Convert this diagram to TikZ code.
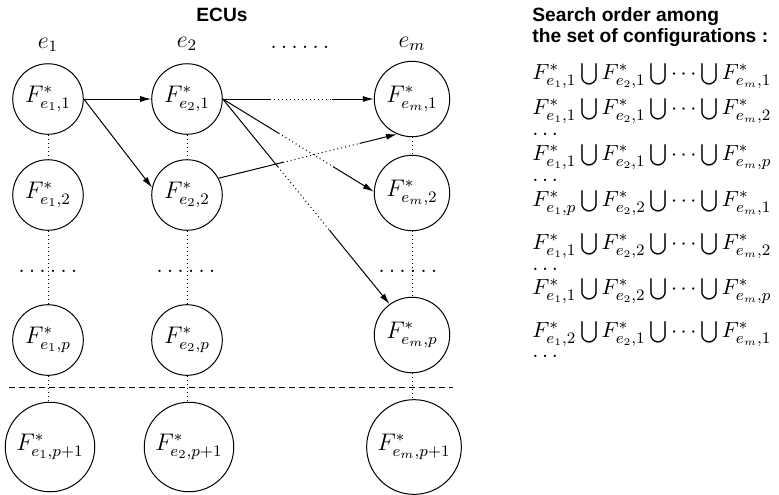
\documentclass[tikz,border=0pt]{standalone}
\usepackage{amsmath,amssymb}
\usepackage{fontspec}
\newfontfamily\headfont{Liberation Sans}
\usetikzlibrary{arrows.meta, positioning, calc}

\begin{document}
\begin{tikzpicture}[x=0.5pt, y=-0.5pt,
    ecu/.style={
        circle, draw, line width=0.5pt,
        font=\large
    },
    tag/.style={font=\large, inner sep=1pt},
    head/.style={font=\headfont\bfseries\fontsize{9.6}{10.5}\selectfont, align=left},
    arrow/.style={-{Latex[length=5.5pt, width=3pt]}, line width=0.5pt},
    solid line/.style={line width=0.5pt},
    dotline/.style={line width=0.5pt, dash pattern=on 0.5pt off 1.5pt},
    cutline/.style={line width=0.5pt, dash pattern=on 3pt off 2pt},
    row/.style={font=\fontsize{10.8}{13}\selectfont, anchor=west, inner sep=0pt},
]
\useasboundingbox (0,0) rectangle (779,494);

% Titoli
\node[head] (ecus) at (222,15) {ECUs};
\node[head, anchor=west, inner sep=0pt] (search) at (532,27)
    {Search order among\\the set of configurations :};

% Intestazioni colonne
\node[tag] (h1) at (48,45)  {$e_1$};
\node[tag] (h2) at (187,44) {$e_2$};
\node[tag] (hd) at (300,47) {$\ldots\ldots$};
\node[tag] (hm) at (412,44) {$e_m$};

% Configurazioni
\node[ecu] (e11) at (48,99)  {$F^*_{e_1,1}$};
\node[ecu] (e21) at (187,99) {$F^*_{e_2,1}$};
\node[ecu] (em1) at (412,99) {$F^*_{e_m,1}$};

\node[ecu] (e12) at (48,195)  {$F^*_{e_1,2}$};
\node[ecu] (e22) at (187,195) {$F^*_{e_2,2}$};
\node[ecu] (em2) at (412,193) {$F^*_{e_m,2}$};

\node[tag] (d1) at (48,271)  {$\ldots\ldots$};
\node[tag] (d2) at (186,271) {$\ldots\ldots$};
\node[tag] (dm) at (408,271) {$\ldots\ldots$};

\node[ecu] (e1p) at (48,340)  {$F^*_{e_1,p}$};
\node[ecu] (e2p) at (187,340) {$F^*_{e_2,p}$};
\node[ecu] (emp) at (412,335) {$F^*_{e_m,p}$};

\node[ecu] (e1q) at (50,447)  {$F^*_{e_1,p+1}$};
\node[ecu] (e2q) at (189,447) {$F^*_{e_2,p+1}$};
\node[ecu] (emq) at (414,447) {$F^*_{e_m,p+1}$};

% Colonne tratteggiate
\foreach \c in {1,2,m} {
    \draw[dotline] (e\c1) -- (e\c2);
    \draw[dotline] (e\c2) -- (e\c p);
    \draw[dotline] (e\c p) -- (e\c p |- e\c q.north);
}

% Separatore
\coordinate (cutL) at (9,387);
\coordinate (cutR) at (453,387);
\draw[cutline] (cutL) -- (cutR);

% Frecce
\draw[arrow] (e11) -- (e21);
\draw[arrow] (e11.east) -- (e22.168);

\foreach \src/\dst/\a/\b [count=\i] in
    {e21.east/em1.west/.31/.72, e21.east/em2.178/.37/.73,
     e21.east/emp.126/.33/.64, e22.28/em1.247/.36/.79} {
    \path (\src) -- (\dst) coordinate[pos=\a] (s\i) coordinate[pos=\b] (t\i);
    \draw[solid line] (\src) -- (s\i);
    \draw[dotline] (s\i) -- (t\i);
    \draw[arrow] (t\i) -- (\dst);
}

% Ordine di ricerca
\node[row] (r1) at (532,76)  {$F^*_{e_1,1}\bigcup F^*_{e_2,1}\bigcup\cdots\bigcup F^*_{e_m,1}$};
\node[row] (r2) at (532,111) {$F^*_{e_1,1}\bigcup F^*_{e_2,1}\bigcup\cdots\bigcup F^*_{e_m,2}$};
\node[row] (x1) at (532,134) {$\ldots$};
\node[row] (r3) at (532,157) {$F^*_{e_1,1}\bigcup F^*_{e_2,1}\bigcup\cdots\bigcup F^*_{e_m,p}$};
\node[row] (x2) at (532,180) {$\ldots$};
\node[row] (r4) at (532,203) {$F^*_{e_1,p}\bigcup F^*_{e_2,2}\bigcup\cdots\bigcup F^*_{e_m,1}$};
\node[row] (r5) at (532,246) {$F^*_{e_1,1}\bigcup F^*_{e_2,2}\bigcup\cdots\bigcup F^*_{e_m,2}$};
\node[row] (x3) at (532,269) {$\ldots$};
\node[row] (r6) at (532,291) {$F^*_{e_1,1}\bigcup F^*_{e_2,2}\bigcup\cdots\bigcup F^*_{e_m,p}$};
\node[row] (r7) at (532,334) {$F^*_{e_1,2}\bigcup F^*_{e_2,1}\bigcup\cdots\bigcup F^*_{e_m,1}$};
\node[row] (x4) at (532,356) {$\ldots$};

\end{tikzpicture}
\end{document}
